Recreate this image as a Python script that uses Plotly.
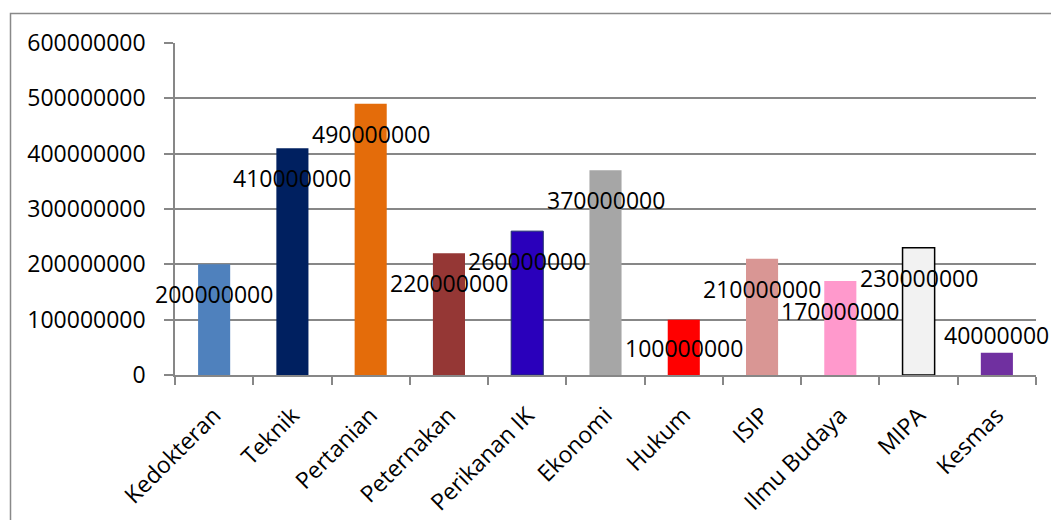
import plotly.graph_objects as go

categories = ["Kedokteran", "Teknik", "Pertanian", "Peternakan", "Perikanan IK",
              "Ekonomi", "Hukum", "ISIP", "Ilmu Budaya", "MIPA", "Kesmas"]
values = [200000000, 410000000, 490000000, 220000000, 260000000,
          370000000, 100000000, 210000000, 170000000, 230000000, 40000000]
colors = ["#4F81BD", "#002060", "#E46C0A", "#953735", "#2A00BB",
          "#A6A6A6", "#FF0000", "#D99694", "#FF99CC", "#F2F2F2", "#7030A0"]
outline_colors = ["#4F81BD", "#002060", "#E46C0A", "#953735", "#1F2F6B",
                  "#A6A6A6", "#FF0000", "#D99694", "#FF99CC", "#000000", "#7030A0"]
outline_widths = [0, 0, 0, 0, 1, 0, 0, 0, 0, 1.5, 0]
label_shift = [-30, -30, -30, -30, -30, -30, -28, -30, -30, -30, 18]
y_ticks = [0, 100000000, 200000000, 300000000, 400000000, 500000000, 600000000]

W, H = 1051, 520
ML, MR, MT, MB = 175, 15, 43, 145
FONT = "Open Sans"
GRID = "#878787"

fig = go.Figure()
fig.add_trace(go.Bar(
    x=categories, y=values,
    marker=dict(color=colors, line=dict(color=outline_colors, width=outline_widths)),
    width=0.41, hoverinfo="skip",
))

for c, v, s in zip(categories, values, label_shift):
    fig.add_annotation(x=c, y=v, text=str(v), showarrow=False, yshift=s,
                       font=dict(family=FONT, size=23, color="black"))

# chart-area border (extends past the window on right/bottom)
pw, ph = W - ML - MR, H - MT - MB
def px_to_paper_x(px):
    return (px - ML) / pw
def px_to_paper_y(py):
    return (H - MB - py) / ph
fig.add_shape(type="rect", xref="paper", yref="paper",
              x0=px_to_paper_x(10.5), x1=px_to_paper_x(1070),
              y0=px_to_paper_y(13.5), y1=px_to_paper_y(540),
              line=dict(color="#898989", width=1.5), layer="below")

fig.update_layout(
    width=W, height=H,
    margin=dict(l=ML, r=MR, t=MT, b=MB, autoexpand=False),
    paper_bgcolor="white", plot_bgcolor="white",
    showlegend=False,
    font=dict(family=FONT, size=23, color="black"),
    xaxis=dict(
        range=[-0.5, len(categories) - 0.5], autorange=False,
        showline=True, linecolor=GRID, linewidth=1.5,
        ticks="outside", tickson="boundaries", ticklen=8, tickcolor=GRID, tickwidth=1.5,
        tickangle=-45, tickfont=dict(family=FONT, size=23, color="black"),
        ticklabelstandoff=16,
        showgrid=False, automargin=False,
    ),
    yaxis=dict(
        range=[0, 600000000], tickvals=y_ticks, ticktext=[str(t) for t in y_ticks],
        showgrid=True, gridcolor=GRID, gridwidth=1.5,
        showline=True, linecolor=GRID, linewidth=1.5,
        ticks="outside", ticklen=9, tickcolor=GRID, tickwidth=1.5,
        ticklabelstandoff=14, zeroline=False, automargin=False,
        tickfont=dict(family=FONT, size=23, color="black"),
    ),
)

fig.write_html("out.html")
